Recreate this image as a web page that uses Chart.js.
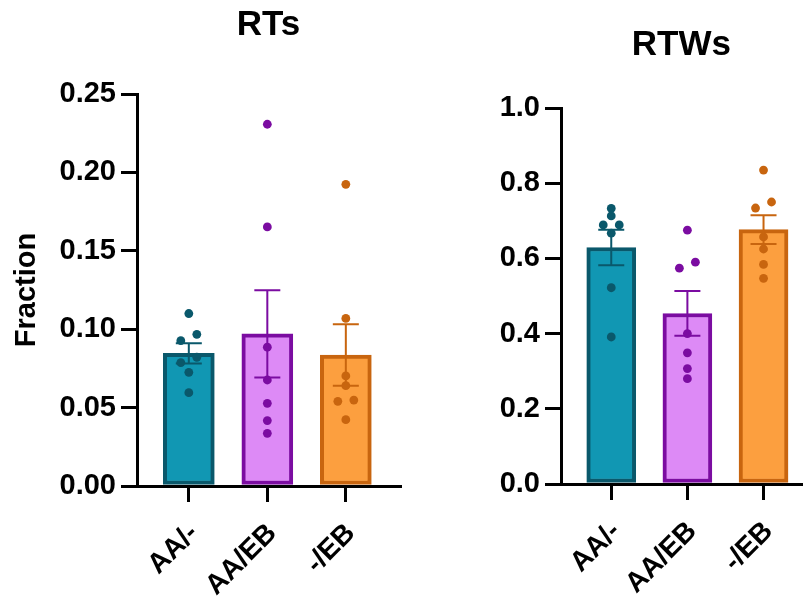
<!DOCTYPE html>
<html>
<head>
<meta charset="utf-8">
<script src="https://cdn.jsdelivr.net/npm/chart.js@4.4.1/dist/chart.umd.min.js"></script>
<style>
    html, body { margin: 0; padding: 0; background: #fff; }
    #wrap { position: relative; width: 806px; height: 597px; overflow: hidden; }
    #rtChart { position: absolute; left: 0; top: 0; }
    #rtwChart { position: absolute; left: 410px; top: 0; }
</style>
</head>
<body>
<div id="wrap">
    <canvas id="rtChart" width="410" height="597"></canvas>
    <canvas id="rtwChart" width="396" height="597"></canvas>
</div>
<script>
const groups = ['AA/-', 'AA/EB', '-/EB'];

// RTs: group means, SEM and individual values
const rtMean = [0.0846, 0.0970, 0.0835];
const rtSem = [0.0064, 0.0278, 0.0196];
const rtAA = [0.110, 0.0967, 0.0927, 0.0821, 0.0787, 0.0725, 0.0595];
const rtAAEB = [0.2307, 0.1652, 0.0885, 0.0676, 0.0527, 0.0417, 0.0336];
const rtEB = [0.1924, 0.1069, 0.0702, 0.0640, 0.0548, 0.0540, 0.0423];

// RTWs
const rtwMean = [0.629, 0.4535, 0.6765];
const rtwSem = [0.047, 0.0595, 0.0385];
const rtwAA = [0.733, 0.713, 0.689, 0.689, 0.667, 0.522, 0.391];
const rtwAAEB = [0.675, 0.590, 0.574, 0.400, 0.349, 0.307, 0.280];
const rtwEB = [0.835, 0.750, 0.734, 0.657, 0.625, 0.584, 0.547];

const fillColors = ['#1197b3', '#dd8af6', '#fc9f3f'];
const lineColors = ['#0a586b', '#7b0ca1', '#c8650f'];
const FONT = "'Liberation Sans', Arial, sans-serif";

Chart.defaults.font.family = FONT;
Chart.defaults.color = '#000';

// spread dots sideways when they sit too close vertically
const dotSpread = {
    id: 'dotSpread',
    afterDatasetsUpdate(chart) {
        chart.data.datasets.forEach((ds, i) => {
            if (ds.type !== 'scatter') return;
            const pts = chart.getDatasetMeta(i).data.slice().sort((a, b) => a.y - b.y);
            let cluster = [];
            const flush = () => {
                const n = cluster.length;
                cluster.forEach((p, k) => { p.x += ((n - 1) / 2 - k) * 16; });
                cluster = [];
            };
            pts.forEach(p => {
                if (cluster.length && p.y - cluster[cluster.length - 1].y >= 7) flush();
                cluster.push(p);
            });
            flush();
        });
    }
};

// mean +/- SEM whiskers
const errorBars = {
    id: 'errorBars',
    afterDatasetsDraw(chart, args, opts) {
        const ctx = chart.ctx;
        const xs = chart.scales.x, ys = chart.scales.y;
        ctx.save();
        ctx.lineWidth = 2;
        opts.mean.forEach((m, i) => {
            const x = xs.getPixelForValue(i);
            const top = ys.getPixelForValue(m + opts.sem[i]);
            const bot = ys.getPixelForValue(m - opts.sem[i]);
            ctx.strokeStyle = lineColors[i];
            ctx.beginPath();
            ctx.moveTo(x, top); ctx.lineTo(x, bot);
            ctx.moveTo(x - 13, top); ctx.lineTo(x + 13, top);
            ctx.moveTo(x - 13, bot); ctx.lineTo(x + 13, bot);
            ctx.stroke();
        });
        ctx.restore();
    }
};

function makeChart(id, o) {
    const datasets = [{
        type: 'bar',
        data: o.mean.map((v, i) => ({ x: i, y: v })),
        backgroundColor: fillColors,
        borderColor: lineColors,
        borderWidth: 4,
        borderSkipped: false,
        barThickness: o.barWidth,
        order: 2
    }];
    o.points.forEach((vals, i) => {
        datasets.push({
            type: 'scatter',
            data: vals.map(v => ({ x: i, y: v })),
            backgroundColor: lineColors[i],
            borderWidth: 0,
            pointRadius: 4.4,
            order: 1
        });
    });

    return new Chart(document.getElementById(id), {
        type: 'bar',
        data: { datasets: datasets },
        options: {
            responsive: false,
            animation: false,
            layout: { padding: { left: 0, top: 0, bottom: 0, right: o.padRight } },
            plugins: {
                legend: { display: false },
                tooltip: { enabled: false },
                title: {
                    display: true,
                    text: o.title,
                    fullSize: false,
                    font: { size: 35, weight: 'bold' },
                    color: '#000',
                    padding: o.titlePad
                },
                errorBars: { mean: o.mean, sem: o.sem }
            },
            scales: {
                x: {
                    type: 'linear',
                    offset: false,
                    min: -0.66,
                    max: o.xMax,
                    afterBuildTicks: s => { s.ticks = groups.map((g, i) => ({ value: i })); },
                    afterFit: s => { s.height = o.xHeight; s.paddingLeft = 0; s.paddingRight = 0; },
                    border: { color: '#000', width: 3 },
                    grid: { offset: false, drawOnChartArea: false, color: '#000', lineWidth: 3, tickLength: 16 },
                    ticks: {
                        callback: v => groups[v],
                        minRotation: 45,
                        maxRotation: 45,
                        padding: 15,
                        labelOffset: 5,
                        font: { size: 28, weight: 'bold' },
                        color: '#000'
                    }
                },
                y: {
                    min: 0,
                    max: o.yMax,
                    afterFit: s => { s.width = o.yWidth; },
                    border: { color: '#000', width: 3 },
                    grid: { drawOnChartArea: false, color: '#000', lineWidth: 3, tickLength: 16 },
                    ticks: {
                        stepSize: o.yStep,
                        callback: v => v.toFixed(o.digits),
                        padding: 5,
                        font: { size: 29, weight: 'bold' },
                        color: '#000'
                    },
                    title: {
                        display: !!o.yTitle,
                        text: o.yTitle,
                        font: { size: 29, weight: 'bold' },
                        color: '#000',
                        padding: { top: 10, bottom: 0 }
                    }
                }
            }
        },
        plugins: [dotSpread, errorBars]
    });
}

document.addEventListener('DOMContentLoaded', function () {
    makeChart('rtChart', {
        title: 'RTs',
        titlePad: { top: 4, bottom: 48 },
        mean: rtMean,
        sem: rtSem,
        points: [rtAA, rtAAEB, rtEB],
        yMax: 0.25,
        yStep: 0.05,
        digits: 2,
        yTitle: 'Fraction',
        yWidth: 137,
        xHeight: 111,
        xMax: 2.69,
        padRight: 10,
        barWidth: 51
    });
    makeChart('rtwChart', {
        title: 'RTWs',
        titlePad: { top: 24, bottom: 42 },
        mean: rtwMean,
        sem: rtwSem,
        points: [rtwAA, rtwAAEB, rtwEB],
        yMax: 1.0,
        yStep: 0.2,
        digits: 1,
        yTitle: '',
        yWidth: 151,
        xHeight: 113,
        xMax: 2.5,
        padRight: 0,
        barWidth: 49
    });
});
</script>
</body>
</html>
